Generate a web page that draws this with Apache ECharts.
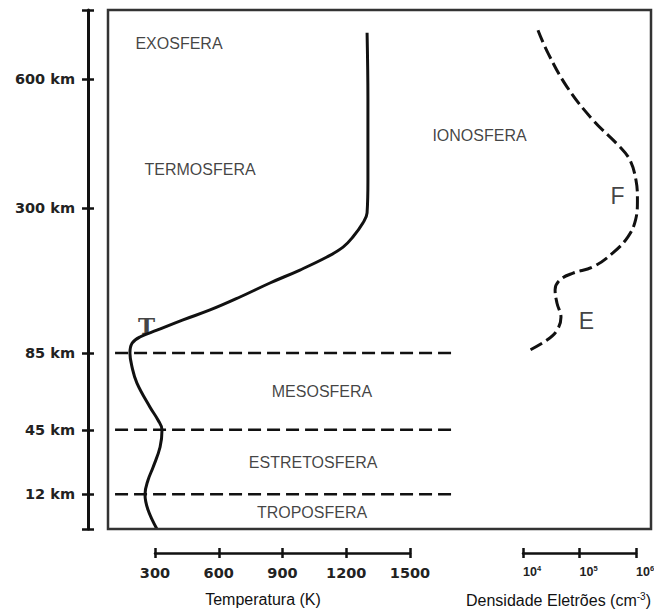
<!DOCTYPE html>
<html>
<head>
<meta charset="utf-8">
<script src="https://cdn.jsdelivr.net/npm/echarts@6/dist/echarts.min.js"></script>
<style>html,body{margin:0;padding:0;background:#fff;}#c{width:654px;height:612px;}</style>
</head>
<body>
<div id="c"></div>
<script>
// Altitude axis (schematic relative height 0-100, bottom to top of the frame)
const heightLevels = [6.7, 19.1, 33.9, 61.8, 86.7];
const heightLabels = ['12 km', '45 km', '85 km', '300 km', '600 km'];
const boundaryLevels = [33.9, 19.1, 6.7];
const boundaryTempRange = [112, 1702];

// Temperature profile (K) vs relative height
const tempK = [1298, 1302, 1302, 1298, 1279, 1232, 1185, 1109, 982, 841, 700, 559, 432, 309, 229, 192, 182, 192, 215, 276, 314, 333, 324, 291, 267, 253, 267, 309];
const tempHeight = [95.6, 82.7, 67.2, 60.9, 59.0, 56.3, 54.3, 52.4, 49.9, 47.4, 44.7, 42.2, 40.3, 38.3, 37.0, 35.8, 33.9, 31.2, 28.1, 23.5, 21.0, 19.1, 15.8, 11.9, 9.4, 6.7, 3.7, 0];

// Electron density (cm^-3) vs relative height
const densValue = [1.84e4, 2.77e4, 6.0e4, 1.73e5, 5.2e5, 7.8e5, 1.0e6, 1.06e6, 9.8e5, 7.2e5, 3.9e5, 1.73e5, 7.7e4, 4.5e4, 3.7e4, 4.0e4, 4.7e4, 4.0e4, 2.66e4, 1.23e4];
const densHeight = [96.1, 91.7, 85.2, 78.8, 73.6, 71.1, 67.2, 63.4, 59.5, 56.3, 53.2, 50.5, 49.3, 48.0, 46.1, 43.5, 40.8, 38.3, 36.4, 34.3];

// Layer names (placed in temperature / height units)
const layerNames = ['EXOSFERA', 'TERMOSFERA', 'IONOSFERA', 'MESOSFERA', 'ESTRETOSFERA', 'TROPOSFERA'];
const layerT = [413, 512, 1827, 1086, 1044, 1039];
const layerH = [93.6, 69.2, 75.9, 26.4, 12.9, 3.1];

// Ionospheric region names (placed in density / height units)
const regionNames = ['F', 'E'];
const regionDens = [4.71e5, 1.33e5];
const regionH = [64.1, 40.0];

// Mesopause marker
const markText = 'T';
const markT = 260;
const markH = 39.3;

// Axis settings
const tempMin = 300, tempMax = 1500, tempStep = 300;
const densMin = 1e4, densMax = 1e6;
const tempAxisName = 'Temperatura (K)';

// Layout (pixels)
const box = { left: 108, top: 10, width: 543, height: 519 };
const tempBox = { left: 155, width: 255 };
const densBox = { left: 523, width: 113 };

// Extents of the plotting axes inside the frame, matching the visible scales
const kPerPx = (tempMax - tempMin) / tempBox.width;
const tExtMin = tempMin - (tempBox.left - box.left) * kPerPx;
const tExtMax = tempMax + (box.left + box.width - tempBox.left - tempBox.width) * kPerPx;
const decPerPx = (Math.log10(densMax) - Math.log10(densMin)) / densBox.width;
const dExtMin = Math.pow(10, Math.log10(densMin) - (densBox.left - box.left) * decPerPx);
const dExtMax = Math.pow(10, Math.log10(densMax) + (box.left + box.width - densBox.left - densBox.width) * decPerPx);

const INK = '#111';
const FRAME = '#333';
const TEXT = '#111';
const boldLabel = { fontFamily: 'DejaVu Sans', fontWeight: 'bold', fontSize: 14.5, color: '#222' };
const plainFont = 'Liberation Sans';

const chart = echarts.init(document.getElementById('c'), null, { renderer: 'svg' });

const noTick = { show: false };
const noLabel = { show: false };
const noSplit = { show: false };

// axis indices
const X_T = 0, X_D = 1, Y_H = 2;

const series = [];
boundaryLevels.forEach((lv) => {
  series.push({
    type: 'line', xAxisIndex: X_T, yAxisIndex: Y_H, silent: true,
    symbol: 'none', animation: false,
    lineStyle: { color: INK, width: 2.5, type: [13, 6] },
    data: [[boundaryTempRange[0], lv], [boundaryTempRange[1], lv]]
  });
});
series.push({
  type: 'line', name: 'Temperatura', xAxisIndex: X_T, yAxisIndex: Y_H,
  symbol: 'none', smooth: 0.4, animation: false,
  lineStyle: { color: INK, width: 3 },
  data: tempK.map((t, i) => [t, tempHeight[i]])
});
series.push({
  type: 'line', name: 'Densidade', xAxisIndex: X_D, yAxisIndex: Y_H,
  symbol: 'none', smooth: 0.4, animation: false,
  lineStyle: { color: INK, width: 3, type: [13, 5] },
  data: densValue.map((d, i) => [d, densHeight[i]])
});
series.push({
  type: 'scatter', xAxisIndex: X_T, yAxisIndex: Y_H, symbolSize: 0, silent: true, animation: false,
  label: { show: true, position: 'inside', fontFamily: plainFont, fontSize: 16, color: TEXT,
    formatter: (p) => p.data.name },
  data: layerNames.map((n, i) => ({ name: n, value: [layerT[i], layerH[i]] }))
});
series.push({
  type: 'scatter', xAxisIndex: X_D, yAxisIndex: Y_H, symbolSize: 0, silent: true, animation: false,
  label: { show: true, position: 'inside', fontFamily: plainFont, fontSize: 23, color: TEXT,
    formatter: (p) => p.data.name },
  data: regionNames.map((n, i) => ({ name: n, value: [regionDens[i], regionH[i]] }))
});
series.push({
  type: 'scatter', xAxisIndex: X_T, yAxisIndex: Y_H, symbolSize: 0, silent: true, animation: false,
  label: { show: true, position: 'inside', fontFamily: 'DejaVu Serif', fontWeight: 'bold', fontSize: 23, color: INK,
    formatter: (p) => p.data.name },
  data: [{ name: markText, value: [markT, markH] }]
});

const supRich = {
  b: { fontFamily: 'Liberation Sans', fontWeight: 'bold', fontSize: 12.5, color: '#222' },
  s: { fontFamily: 'Liberation Sans', fontWeight: 'bold', fontSize: 7.5, color: '#222', verticalAlign: 'top', padding: [0, 0, 7, 0] }
};

const tickStyle = { color: INK, width: 2.5 };

const option = {
  animation: false,
  backgroundColor: '#fff',
  graphic: [
    { type: 'rect', z: 50, silent: true,
      shape: { x: box.left, y: box.top, width: box.width, height: box.height },
      style: { fill: 'none', stroke: FRAME, lineWidth: 2.5 } }
  ],
  grid: [
    { left: box.left, top: box.top, width: box.width, height: box.height, show: false, outerBoundsMode: 'none', containLabel: false },
    { left: tempBox.left, top: box.top, width: tempBox.width, height: box.height, outerBoundsMode: 'none', containLabel: false },
    { left: densBox.left, top: box.top, width: densBox.width, height: box.height, outerBoundsMode: 'none', containLabel: false }
  ],
  xAxis: [
    // 0: temperature plotting axis spanning the frame
    { gridIndex: 0, type: 'value', min: tExtMin, max: tExtMax, show: false },
    // 1: density plotting axis spanning the frame
    { gridIndex: 0, type: 'log', logBase: 10, min: dExtMin, max: dExtMax, show: false },
    // 2: visible temperature scale
    {
      gridIndex: 1, type: 'value', min: tempMin, max: tempMax, interval: tempStep, position: 'bottom', offset: 24,
      axisLine: { show: true, onZero: false, lineStyle: { color: INK, width: 2.5 } },
      axisTick: { show: true, inside: false, length: 5, lineStyle: tickStyle },
      axisLabel: Object.assign({ margin: 12, formatter: (v) => String(v) }, boldLabel),
      splitLine: noSplit,
      name: tempAxisName, nameLocation: 'middle', nameGap: 38,
      nameTextStyle: { fontFamily: plainFont, fontSize: 16, color: TEXT, padding: [0, 39, 0, 0] }
    },
    {
      gridIndex: 1, type: 'value', min: tempMin, max: tempMax, interval: tempStep, position: 'bottom', offset: 24,
      axisLine: { show: false, onZero: false },
      axisTick: { show: true, inside: true, length: 5, lineStyle: tickStyle },
      axisLabel: noLabel, splitLine: noSplit
    },
    // 4: visible density scale
    {
      gridIndex: 2, type: 'log', logBase: 10, min: densMin, max: densMax, position: 'bottom', offset: 24,
      axisLine: { show: true, onZero: false, lineStyle: { color: INK, width: 2.5 } },
      axisTick: { show: true, inside: false, length: 5, lineStyle: tickStyle },
      minorTick: noTick,
      axisLabel: {
        margin: 11, align: 'left',
        formatter: (v) => '{b|10}{s|' + Math.round(Math.log10(v)) + '}',
        rich: supRich
      },
      splitLine: noSplit,
      name: 'Densidade Eletrões (cm{s|-3}{n|)}', nameLocation: 'middle', nameGap: 38,
      nameTextStyle: {
        fontFamily: plainFont, fontSize: 16, color: TEXT, padding: [0, 42, 0, 0],
        rich: {
          s: { fontFamily: plainFont, fontSize: 10, color: TEXT, verticalAlign: 'top', padding: [0, 0, 8, 0] },
          n: { fontFamily: plainFont, fontSize: 16, color: TEXT }
        }
      }
    },
    {
      gridIndex: 2, type: 'log', logBase: 10, min: densMin, max: densMax, position: 'bottom', offset: 24,
      axisLine: { show: false, onZero: false },
      axisTick: { show: true, inside: true, length: 5, lineStyle: tickStyle },
      minorTick: noTick,
      axisLabel: noLabel, splitLine: noSplit
    }
  ],
  yAxis: [
    // 0: altitude scale with labels
    {
      gridIndex: 0, type: 'value', min: 0, max: 100, position: 'left', offset: 20,
      axisLine: { show: true, onZero: false, lineStyle: { color: INK, width: 3 } },
      axisTick: { show: true, inside: false, length: 6, customValues: [0].concat(heightLevels, [100]), lineStyle: tickStyle },
      axisLabel: Object.assign({
        margin: 13, customValues: heightLevels,
        formatter: (v) => {
          const i = heightLevels.findIndex((h) => Math.abs(h - v) < 1e-6);
          return i >= 0 ? heightLabels[i] : '';
        }
      }, boldLabel),
      splitLine: noSplit
    },
    {
      gridIndex: 0, type: 'value', min: 0, max: 100, position: 'left', offset: 20,
      axisLine: { show: false, onZero: false },
      axisTick: { show: true, inside: true, length: 6, customValues: [0].concat(heightLevels, [100]), lineStyle: tickStyle },
      axisLabel: noLabel, splitLine: noSplit
    },
    // 2: height plotting axis
    { gridIndex: 0, type: 'value', min: 0, max: 100, show: false },
    { gridIndex: 1, type: 'value', min: 0, max: 100, show: false },
    { gridIndex: 2, type: 'value', min: 0, max: 100, show: false }
  ],
  series: series
};

chart.setOption(option);
</script>
</body>
</html>
